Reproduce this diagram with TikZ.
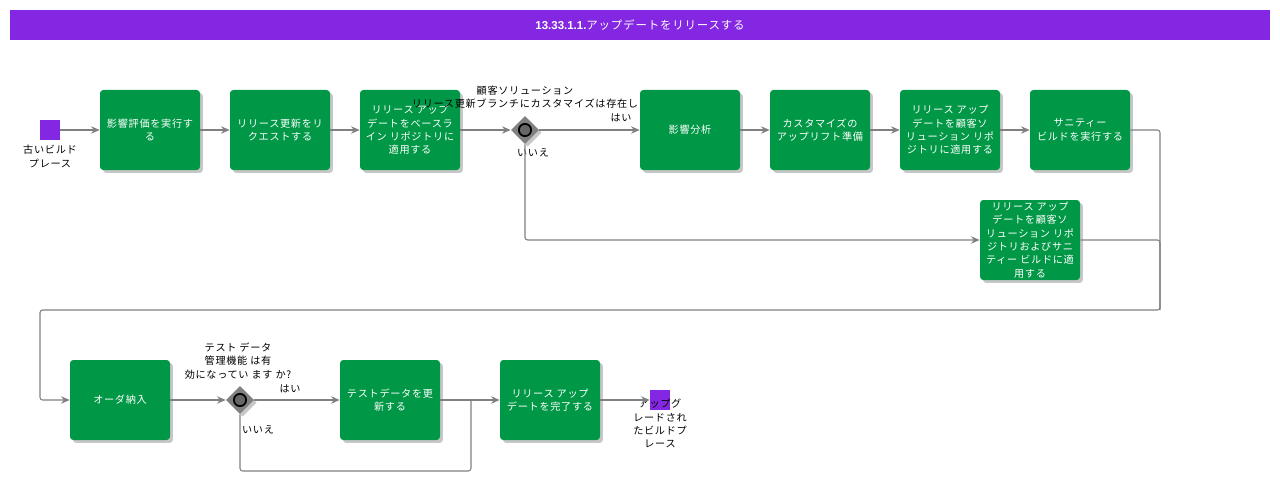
\documentclass[tikz,border=0pt]{standalone}
\usepackage{fontspec}
\setmainfont[LetterSpace=7]{Noto Sans CJK JP}
\newfontfamily\latinb{Liberation Sans}
\usetikzlibrary{arrows.meta,shapes.geometric,shadows}
\definecolor{titlepurple}{HTML}{8427E2}
\definecolor{boxgreen}{HTML}{009846}
\definecolor{linegray}{HTML}{808080}
\definecolor{gwgray}{HTML}{808080}
\begin{document}
\begin{tikzpicture}[x=0.75pt,y=-0.75pt,
  task/.style={draw=none, fill=boxgreen, rounded corners=2.5pt, minimum width=75pt, minimum height=60pt,
    text=white, align=center, font=\fontsize{7.6}{10}\selectfont, inner sep=1pt,
    drop shadow={opacity=0.22, shadow xshift=2.2pt, shadow yshift=-2.2pt, fill=black}},
  gateway/.style={diamond, fill=gwgray, minimum width=21pt, minimum height=21pt, inner sep=0pt,
    drop shadow={opacity=0.22, shadow xshift=2pt, shadow yshift=-2pt, fill=black}},
  evt/.style={fill=titlepurple, minimum width=15pt, minimum height=15pt, inner sep=0pt},
  lbl/.style={align=center, font=\fontsize{7.6}{10}\selectfont, text=black, inner sep=0pt},
  conn/.style={draw=linegray, line width=0.8pt, rounded corners=2pt},
  flow/.style={conn, -{Stealth[length=6.5pt,width=5.5pt]}}
]
\useasboundingbox (0,0) rectangle (1280,481);
% title
\node[fill=titlepurple, minimum width=945pt, minimum height=22.5pt, inner sep=0pt, text=white,
  font=\fontsize{8.6}{10}\selectfont] (title) at (640,25) {{\latinb\bfseries 13.33.1.1.}アップデートをリリースする};
% start
\node[evt] (start) at (50,130) {};
\node[lbl, anchor=north] (startl) at (50,145) {古いビルド\\プレース};
% row 1
\node[task] (b1) at (150,130) {影響評価を実行す\\る};
\node[task] (b2) at (280,130) {リリース更新をリ\\クエストする};
\node[task] (b3) at (410,130) {リリース アップ\\デートをベースラ\\イン リポジトリに\\適用する};
\node[gateway] (g1) at (525,130) {};
\draw[line width=1.3pt, fill=gwgray!80!black] (g1.center) circle (4.6pt);
\node[lbl] (g1l) at (525,97) {顧客ソリューション\\リリース更新ブランチにカスタマイズは存在し};
\node[lbl] (g1y) at (621,118) {はい};
\node[lbl] (g1n) at (533,153) {いいえ};
\node[task] (b4) at (690,130) {影響分析};
\node[task] (b5) at (820,130) {カスタマイズの\\アップリフト準備};
\node[task] (b6) at (950,130) {リリース アップ\\デートを顧客ソ\\リューション リポ\\ジトリに適用する};
\node[task] (b7) at (1080,130) {サニティー\\ビルドを実行する};
\node[task] (b8) at (1030,240) {リリース アップ\\デートを顧客ソ\\リューション リポ\\ジトリおよびサニ\\ティー ビルドに適\\用する};
% row 2
\node[task] (b9) at (120,400) {オーダ納入};
\node[gateway] (g2) at (240,400) {};
\draw[line width=1.3pt, fill=gwgray!80!black] (g2.center) circle (4.6pt);
\node[lbl] (g2l) at (238,361) {テスト データ\\管理機能 は有\\効になってい ます か?};
\node[lbl] (g2y) at (290,389) {はい};
\node[lbl] (g2n) at (258,430) {いいえ};
\node[task] (b10) at (390,400) {テストデータを更\\新する};
\node[task] (b11) at (550,400) {リリース アップ\\デートを完了する};
\node[evt] (end) at (660,400) {};
\node[lbl, anchor=north] (endl) at (660,399) {アップグ\\レードされ\\たビルドプ\\レース};
% coordinates
\coordinate (c1) at (1160,310);
\coordinate (c2) at (40,310);
\coordinate (c3) at (471,471);
\coordinate (c4) at (471,400);
% connectors
\draw[flow] (start) -- (b1);
\draw[flow] (b1) -- (b2);
\draw[flow] (b2) -- (b3);
\draw[flow] (b3) -- (g1);
\draw[flow] (g1) -- (b4);
\draw[flow] (b4) -- (b5);
\draw[flow] (b5) -- (b6);
\draw[flow] (b6) -- (b7);
\draw[flow] (g1.south) |- (b8.west);
\draw[conn] (b8.east) -| (c1);
\draw[flow] (b7.east) -| (c1) -- (c2) |- (b9.west);
\draw[flow] (b9) -- (g2);
\draw[flow] (g2) -- (b10);
\draw[flow] (b10) -- (b11);
\draw[conn] (g2.south) |- (c3) -- (c4);
\draw[flow] (b11) -- (end);
\end{tikzpicture}
\end{document}
